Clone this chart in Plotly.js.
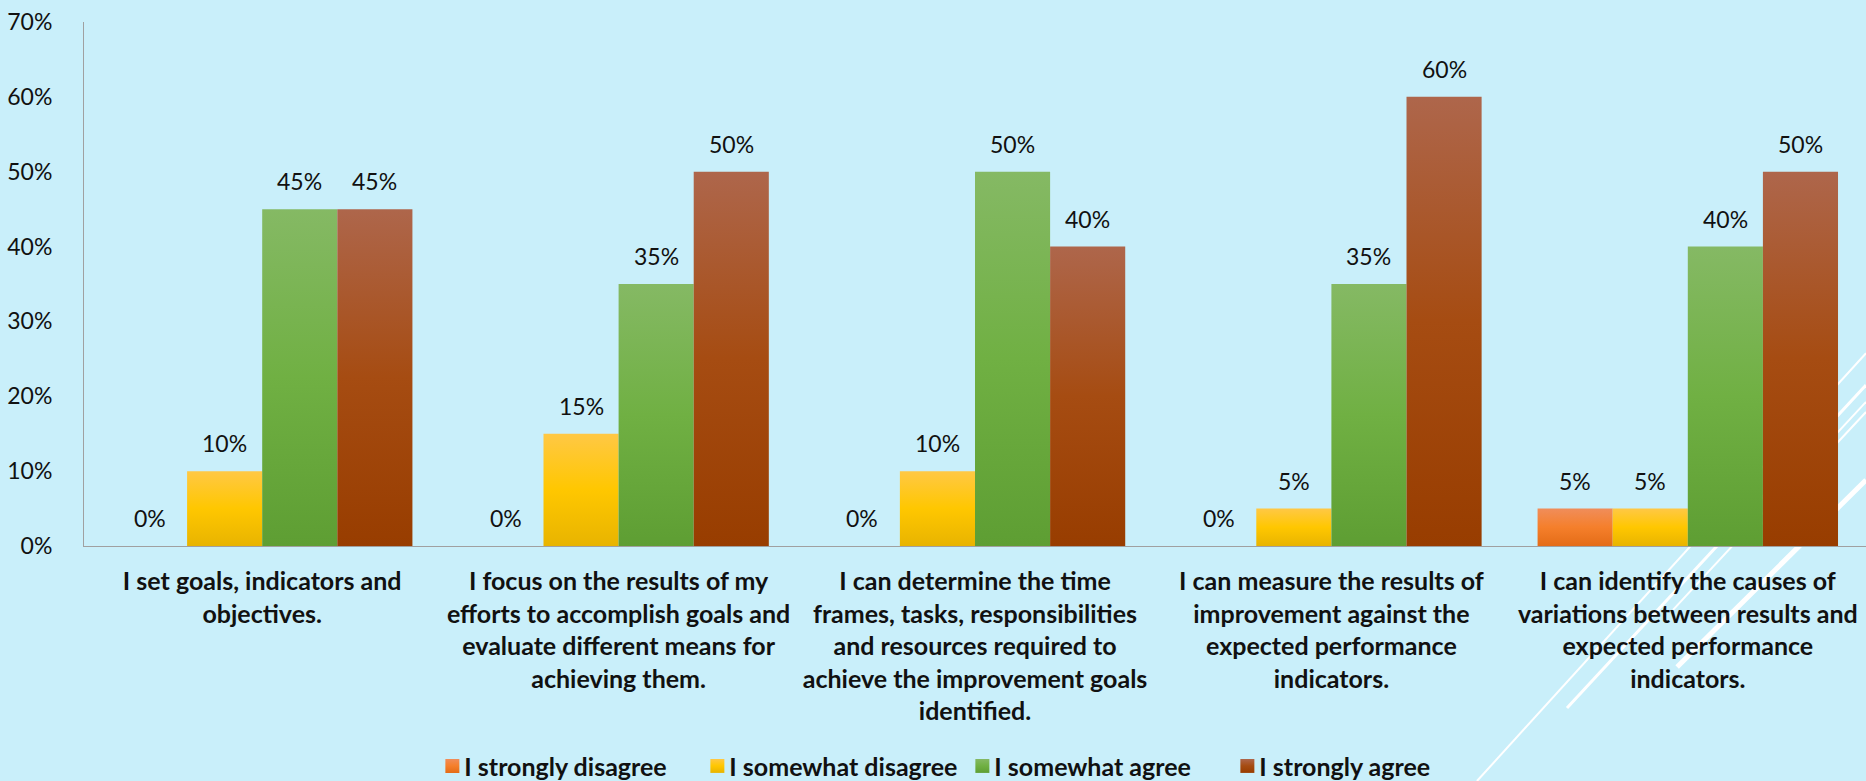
<!DOCTYPE html>
<html>
<head>
<meta charset="utf-8">
<script src="https://cdn.plot.ly/plotly-3.0.1.min.js"></script>
<style>
html,body{margin:0;padding:0;background:#C9EFFA;}
#chart{width:1866px;height:781px;}
</style>
</head>
<body>
<div id="chart"></div>
<script>
// ---- data ----
const categoryLines = [
  ["I set goals, indicators and", "objectives."],
  ["I focus on the results of my", "efforts to accomplish goals and", "evaluate different means for", "achieving them."],
  ["I can determine the time", "frames, tasks, responsibilities", "and resources required to", "achieve the improvement goals", "identified."],
  ["I can measure the results of", "improvement against the", "expected performance", "indicators."],
  ["I can identify the causes of", "variations between results and", "expected performance", "indicators."]
];
const seriesNames = ["I strongly disagree", "I somewhat disagree", "I somewhat agree", "I strongly agree"];
const stronglyDisagree = [0.00, 0.00, 0.00, 0.00, 0.05];
const somewhatDisagree = [0.10, 0.15, 0.10, 0.05, 0.05];
const somewhatAgree    = [0.45, 0.35, 0.50, 0.35, 0.40];
const stronglyAgree    = [0.45, 0.50, 0.40, 0.60, 0.50];
const yTickVals = [0, 0.1, 0.2, 0.3, 0.4, 0.5, 0.6, 0.7];

// ---- styles ----
const seriesValues = [stronglyDisagree, somewhatDisagree, somewhatAgree, stronglyAgree];
const baseColors = ["#F47F2E", "#FFC700", "#6FB043", "#A54B12"];
const gradStops = [
  ["#F08D5A", "#F57F2B", "#E46C17"],
  ["#FFC845", "#FFC700", "#E8B400"],
  ["#85B964", "#70B043", "#5E9E33"],
  ["#AE664B", "#A64C12", "#983D00"]
];
const FONT = "Lato, 'Open Sans', sans-serif";
const bargap = 0.157;
const nSeries = seriesValues.length;
const barW = (1 - bargap) / nSeries;

const cats = categoryLines.map(l => l.join("<br>"));
const traces = seriesValues.map((vals, j) => ({
  type: "bar",
  name: seriesNames[j],
  x: cats,
  y: vals,
  marker: {color: baseColors[j], line: {width: 0}},
  hoverinfo: "none"
}));

// value labels above each bar
const annotations = [];
seriesValues.forEach((vals, j) => {
  vals.forEach((v, i) => {
    annotations.push({
      x: i + (j - (nSeries - 1) / 2) * barW,
      y: v,
      xref: "x", yref: "y",
      text: Math.round(v * 100) + "%",
      showarrow: false,
      yanchor: "bottom",
      yshift: 12,
      font: {family: FONT, size: 23, color: "#111111"}
    });
  });
});

// decorative white theme lines (paper coords)
const deco = [
  [1.0, 0.368, 0.7817, -0.4485, 2],
  [1.0, 0.307, 0.8322, -0.309, 3],
  [1.0, 0.275, 0.8917, -0.122, 2],
  [1.0, 0.2557, 0.932, 0.0076, 2],
  [1.0, 0.126, 0.894, -0.231, 5]
];
const shapes = deco.map(d => ({
  type: "line", xref: "paper", yref: "paper",
  x0: d[0], y0: d[1], x1: d[2], y1: d[3],
  line: {color: "#FFFFFF", width: d[4]},
  layer: "below"
}));

const layout = {
  width: 1866, height: 781,
  margin: {l: 84, r: 0, t: 22, b: 235},
  paper_bgcolor: "#C9EFFA",
  plot_bgcolor: "rgba(0,0,0,0)",
  barmode: "group",
  bargap: bargap,
  bargroupgap: 0,
  font: {family: FONT, color: "#111111"},
  showlegend: true,
  legend: {
    orientation: "h",
    x: 0.191, xanchor: "left",
    yref: "container", y: 0.019, yanchor: "middle",
    font: {family: FONT, size: 25, color: "#111111", weight: "bold"},
    bgcolor: "rgba(0,0,0,0)",
    traceorder: "normal",
    entrywidth: 220
  },
  xaxis: {
    type: "category",
    showline: true, linecolor: "#A0A0A0", linewidth: 1,
    ticks: "", tickangle: 0,
    ticklabelstandoff: 13,
    tickfont: {family: FONT, size: 25, color: "#111111", weight: "bold"},
    showgrid: false, zeroline: false, fixedrange: true
  },
  yaxis: {
    range: [0, 0.7],
    tickvals: yTickVals,
    tickformat: ".0%",
    showline: true, linecolor: "#A0A0A0", linewidth: 1,
    ticks: "", ticklabelstandoff: 26,
    tickfont: {family: FONT, size: 23, color: "#111111"},
    showgrid: false, zeroline: false, fixedrange: true
  },
  annotations: annotations,
  shapes: shapes
};

const gd = document.getElementById("chart");
Plotly.newPlot(gd, traces, layout, {displayModeBar: false, staticPlot: true}).then(() => {
  const svg = gd.querySelector("svg.main-svg");
  const defs = svg.querySelector("defs");
  const NS = "http://www.w3.org/2000/svg";
  gradStops.forEach((stops, j) => {
    const lg = document.createElementNS(NS, "linearGradient");
    lg.setAttribute("id", "bargrad" + j);
    lg.setAttribute("x1", "0"); lg.setAttribute("y1", "0");
    lg.setAttribute("x2", "0"); lg.setAttribute("y2", "1");
    stops.forEach((c, k) => {
      const s = document.createElementNS(NS, "stop");
      s.setAttribute("offset", (k / (stops.length - 1) * 100) + "%");
      s.setAttribute("stop-color", c);
      lg.appendChild(s);
    });
    defs.appendChild(lg);
  });
  gd.querySelectorAll(".barlayer .trace").forEach((tr, j) => {
    tr.querySelectorAll("path").forEach(p => { p.style.fill = "url(#bargrad" + j + ")"; });
  });
  gd.querySelectorAll(".legend .traces").forEach((tr, j) => {
    tr.querySelectorAll(".legendpoints path").forEach(p => {
      p.setAttribute("d", "M7,7H-7V-7H7Z");
      p.style.fill = "url(#bargrad" + j + ")";
    });
    const lp = tr.querySelector(".legendpoints");
    if (lp) lp.setAttribute("transform", "translate(8,0)");
  });
});
</script>
</body>
</html>
